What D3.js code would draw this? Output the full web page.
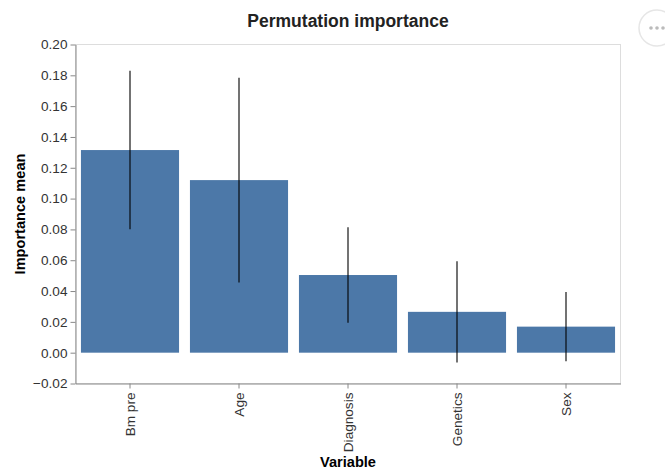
<!DOCTYPE html>
<html>
<head>
<meta charset="utf-8">
<script src="https://cdn.jsdelivr.net/npm/d3@7"></script>
<style>
  html, body { margin: 0; padding: 0; background: #fff; }
  svg { display: block; font-family: "Liberation Sans", Arial, sans-serif; }
</style>
</head>
<body>
<svg id="chart" width="665" height="473"></svg>
<script>
// Permutation importance per variable: mean and standard deviation
const variables = ["Bm pre", "Age", "Diagnosis", "Genetics", "Sex"];
const importanceMean = [0.1315, 0.1120, 0.0504, 0.0265, 0.0169];
const importanceStd = [0.0514, 0.0664, 0.0310, 0.0329, 0.0224];
const yTicks = [-0.02, 0, 0.02, 0.04, 0.06, 0.08, 0.10, 0.12, 0.14, 0.16, 0.18, 0.20];

const rows = variables.map((v, i) => ({
  name: v,
  mean: importanceMean[i],
  lo: importanceMean[i] - importanceStd[i],
  hi: importanceMean[i] + importanceStd[i]
}));

const svg = d3.select("#chart");
const W = 665, H = 473;
const plot = { left: 75.5, right: 620.5, top: 44.5, bottom: 383.5 };

svg.append("rect").attr("width", W).attr("height", H).attr("fill", "#fff");

const x = d3.scaleBand()
  .domain(variables)
  .range([plot.left, plot.right])
  .paddingInner(0.1)
  .paddingOuter(0.05);

const y = d3.scaleLinear()
  .domain([-0.02, 0.20])
  .range([plot.bottom, plot.top]);

// plot frame
svg.append("rect")
  .attr("x", plot.left).attr("y", plot.top)
  .attr("width", plot.right - plot.left).attr("height", plot.bottom - plot.top)
  .attr("fill", "none").attr("stroke", "#ddd").attr("stroke-width", 1);

// bars
svg.append("g").selectAll("rect").data(rows).join("rect")
  .attr("x", d => x(d.name))
  .attr("width", x.bandwidth())
  .attr("y", d => y(Math.max(0, d.mean)))
  .attr("height", d => Math.abs(y(d.mean) - y(0)))
  .attr("fill", "#4c78a8");

// error bars (mean ± std)
svg.append("g").selectAll("line").data(rows).join("line")
  .attr("x1", d => x(d.name) + x.bandwidth() / 2)
  .attr("x2", d => x(d.name) + x.bandwidth() / 2)
  .attr("y1", d => y(d.lo))
  .attr("y2", d => y(d.hi))
  .attr("stroke", "#000")
  .attr("stroke-opacity", 0.55)
  .attr("stroke-width", 2);

// y axis
const yAxis = d3.axisLeft(y)
  .tickValues(yTicks)
  .tickFormat(d3.format(".2f"))
  .tickSizeOuter(0)
  .tickSizeInner(5)
  .tickPadding(3);
const gy = svg.append("g").attr("transform", `translate(${plot.left},0)`).call(yAxis);
gy.select(".domain").attr("stroke", "#888");
gy.selectAll(".tick line").attr("stroke", "#888");
gy.selectAll(".tick text")
  .attr("fill", "#333")
  .style("font-size", "13.6px")
  .style("font-family", "'Liberation Sans', Arial, sans-serif");

// x axis
const xAxis = d3.axisBottom(x).tickSizeOuter(0).tickSizeInner(5).tickPadding(4);
const gx = svg.append("g").attr("transform", `translate(0,${plot.bottom})`).call(xAxis);
gx.select(".domain").attr("stroke", "#888");
gx.selectAll(".tick line").attr("stroke", "#888");
gx.selectAll(".tick text")
  .attr("fill", "#333")
  .style("font-size", "13.6px")
  .style("font-family", "'Liberation Sans', Arial, sans-serif")
  .attr("transform", "rotate(-90)")
  .attr("text-anchor", "end")
  .attr("dy", "0.35em")
  .attr("x", -9)
  .attr("y", 0);

// axis titles
svg.append("text")
  .attr("x", (plot.left + plot.right) / 2)
  .attr("y", 467)
  .attr("text-anchor", "middle")
  .attr("font-weight", "bold")
  .attr("font-size", "14.6px")
  .attr("fill", "#000")
  .text("Variable");

svg.append("text")
  .attr("transform", `translate(25,${(plot.top + plot.bottom) / 2}) rotate(-90)`)
  .attr("text-anchor", "middle")
  .attr("font-weight", "bold")
  .attr("font-size", "14.6px")
  .attr("fill", "#000")
  .text("Importance mean");

// chart title
svg.append("text")
  .attr("x", (plot.left + plot.right) / 2)
  .attr("y", 27)
  .attr("text-anchor", "middle")
  .attr("font-weight", "bold")
  .attr("font-size", "17.5px")
  .attr("fill", "#222")
  .text("Permutation importance");

// actions menu button
const menu = svg.append("g").attr("transform", "translate(657,28)");
menu.append("circle").attr("r", 18).attr("fill", "#fff").attr("stroke", "#e6e6e6").attr("stroke-width", 1.5);
menu.selectAll("circle.dot").data([-6, 0, 6]).join("circle")
  .attr("class", "dot")
  .attr("cx", d => d).attr("cy", 0).attr("r", 1.8)
  .attr("fill", "#bbb");
</script>
</body>
</html>
